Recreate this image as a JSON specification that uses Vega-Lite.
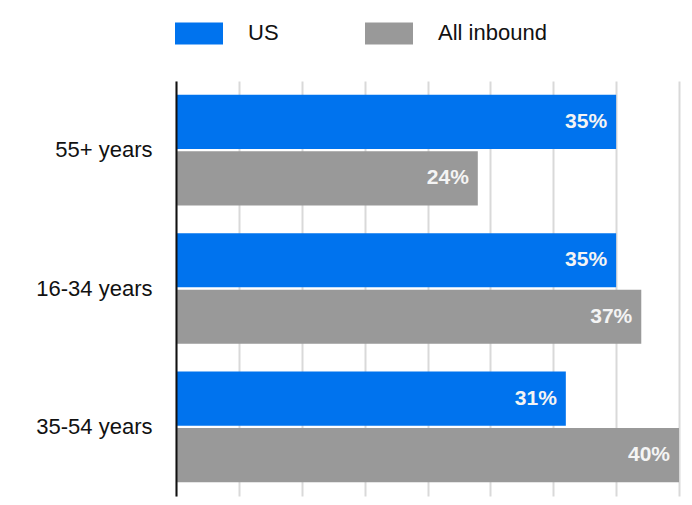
{
  "$schema": "https://vega.github.io/schema/vega-lite/v6.json",
  "autosize": {"type": "none"},
  "width": 503,
  "height": 415,
  "padding": {"left": 176, "top": 81, "right": 13, "bottom": 9},
  "background": "#ffffff",
  "config": {
    "view": {"stroke": null},
    "font": "Liberation Sans"
  },
  "data": {
    "values": [
      {"age": "55+ years", "group": "US", "value": 0.35},
      {"age": "55+ years", "group": "All inbound", "value": 0.24},
      {"age": "16-34 years", "group": "US", "value": 0.35},
      {"age": "16-34 years", "group": "All inbound", "value": 0.37},
      {"age": "35-54 years", "group": "US", "value": 0.31},
      {"age": "35-54 years", "group": "All inbound", "value": 0.40}
    ]
  },
  "encoding": {
    "y": {
      "field": "age",
      "type": "nominal",
      "sort": null,
      "title": null,
      "scale": {"paddingInner": 0.2, "paddingOuter": 0.1},
      "axis": {
        "domain": true,
        "domainColor": "#111111",
        "domainWidth": 2,
        "ticks": false,
        "labelPadding": 24,
        "labelFontSize": 22,
        "labelColor": "#111111",
        "labelFont": "Liberation Sans",
        "zindex": 2
      }
    },
    "yOffset": {
      "field": "group",
      "type": "nominal",
      "sort": ["US", "All inbound"],
      "scale": {"paddingInner": 0.04}
    },
    "x": {
      "field": "value",
      "type": "quantitative",
      "title": null,
      "scale": {"domain": [0, 0.4], "nice": false},
      "axis": {
        "values": [0, 0.05, 0.1, 0.15, 0.2, 0.25, 0.3, 0.35, 0.4],
        "labels": false,
        "ticks": false,
        "domain": false,
        "grid": true,
        "gridColor": "#d9d9d9",
        "gridWidth": 2,
        "zindex": 0
      }
    }
  },
  "layer": [
    {
      "mark": {"type": "bar"},
      "encoding": {
        "color": {
          "field": "group",
          "type": "nominal",
          "sort": ["US", "All inbound"],
          "scale": {"domain": ["US", "All inbound"], "range": ["#0073EE", "#999999"]},
          "legend": {
            "title": null,
            "orient": "none",
            "direction": "horizontal",
            "columns": 2,
            "legendX": -1,
            "legendY": -72,
            "symbolType": "M-1,-0.46H1V0.46H-1Z",
            "symbolSize": 2304,
            "symbolStrokeWidth": 0,
            "symbolOpacity": 1,
            "labelFontSize": 22,
            "labelColor": "#111111",
            "labelFont": "Liberation Sans",
            "labelOffset": 25,
            "columnPadding": 86
          }
        }
      }
    },
    {
      "mark": {
        "type": "text",
        "align": "right",
        "baseline": "middle",
        "dx": -9,
        "fontSize": 21,
        "fontWeight": "bold",
        "color": "#f4f4f4",
        "font": "Liberation Sans"
      },
      "encoding": {
        "text": {"field": "value", "type": "quantitative", "format": ".0%"}
      }
    }
  ]
}
